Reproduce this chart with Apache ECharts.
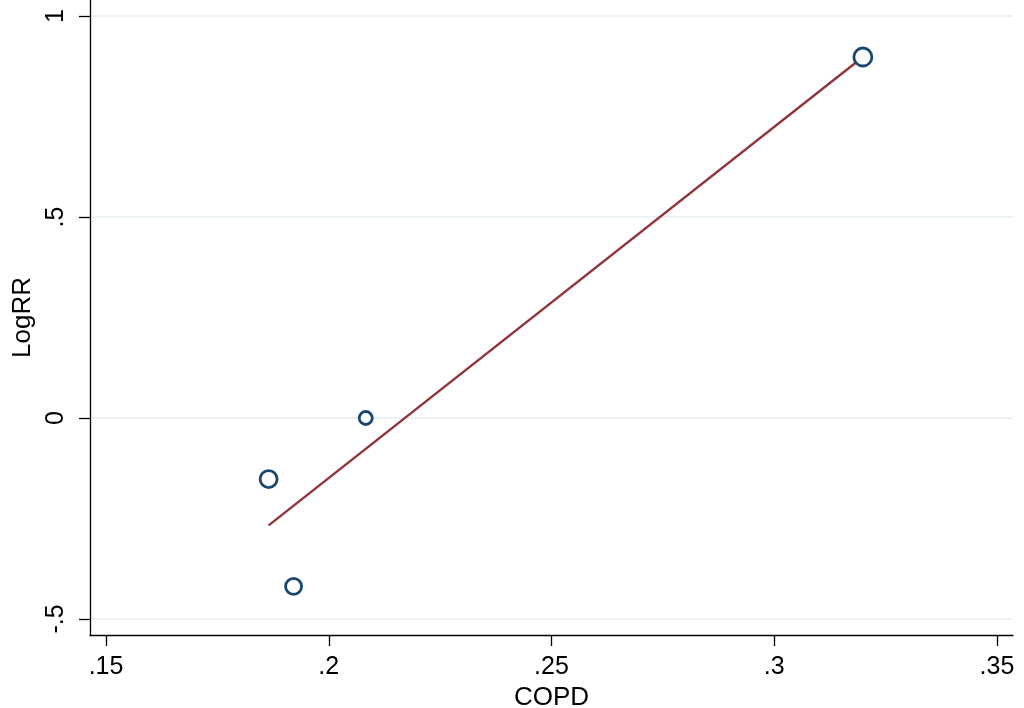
<!DOCTYPE html>
<html>
<head>
<meta charset="utf-8">
<script src="https://cdn.jsdelivr.net/npm/echarts@6/dist/echarts.min.js"></script>
<style>html,body{margin:0;padding:0;background:#fff}#c{width:1024px;height:708px}</style>
</head>
<body>
<div id="c"></div>
<script>
// Observed points (COPD, LogRR) and marker sizes (weights)
var copd = [0.3199, 0.1865, 0.1921, 0.2083];
var logRR = [0.898, -0.152, -0.419, 0.0];
var markerSize = [18, 17, 16, 13];
// Fitted line endpoints
var fitX = [0.1865, 0.3199];
var fitY = [-0.267, 0.898];
// Tick labels
var xTicks = [0.15, 0.2, 0.25, 0.3, 0.35];
var yTicks = [-0.5, 0, 0.5, 1];

function fmt(v) {
  var s = String(Math.round(v * 1000) / 1000);
  return s.replace(/^0\./, '.').replace(/^-0\./, '-.');
}

var font = 'Liberation Sans, Arial, sans-serif';
var chart = echarts.init(document.getElementById('c'));
var pts = copd.map(function (x, i) { return { value: [x, logRR[i]], symbolSize: markerSize[i] }; });
var fit = fitX.map(function (x, i) { return [x, fitY[i]]; });

chart.setOption({
  animation: false,
  grid: { left: 90, right: 11, top: 0, bottom: 73, containLabel: false, outerBoundsMode: 'none' },
  xAxis: {
    type: 'value', min: 0.1464, max: 0.3536,
    name: 'COPD', nameLocation: 'middle', nameGap: 42,
    nameTextStyle: { color: '#000', fontSize: 26, fontFamily: font },
    axisLine: { show: true, onZero: false, lineStyle: { color: '#000', width: 1.3 } },
    axisTick: { show: true, length: 11, customValues: xTicks, lineStyle: { color: '#000', width: 1.3 } },
    axisLabel: { customValues: xTicks, formatter: fmt, color: '#000', fontSize: 25, fontFamily: font, margin: 20 },
    splitLine: { show: false }
  },
  yAxis: {
    type: 'value', min: -0.5398, max: 1.0398,
    name: 'LogRR', nameLocation: 'middle', nameGap: 53, nameRotate: 90,
    nameTextStyle: { color: '#000', fontSize: 26, fontFamily: font },
    axisLine: { show: true, onZero: false, lineStyle: { color: '#000', width: 1.3 } },
    axisTick: { show: true, length: 11, customValues: yTicks, lineStyle: { color: '#000', width: 1.3 } },
    axisLabel: { customValues: yTicks, formatter: fmt, rotate: 90, color: '#000', fontSize: 25, fontFamily: font, margin: 21 },
    splitLine: { show: true, customValues: yTicks, lineStyle: { color: '#eaf2f3', width: 2 } }
  },
  series: [
    {
      type: 'line', data: fit, showSymbol: false, symbol: 'none',
      lineStyle: { color: '#90353b', width: 2.4 }, z: 3
    },
    {
      type: 'scatter', data: pts, symbol: 'circle',
      itemStyle: { color: '#ffffff', borderColor: '#1a476f', borderWidth: 2.8, opacity: 1 }, z: 4
    }
  ]
});
</script>
</body>
</html>
